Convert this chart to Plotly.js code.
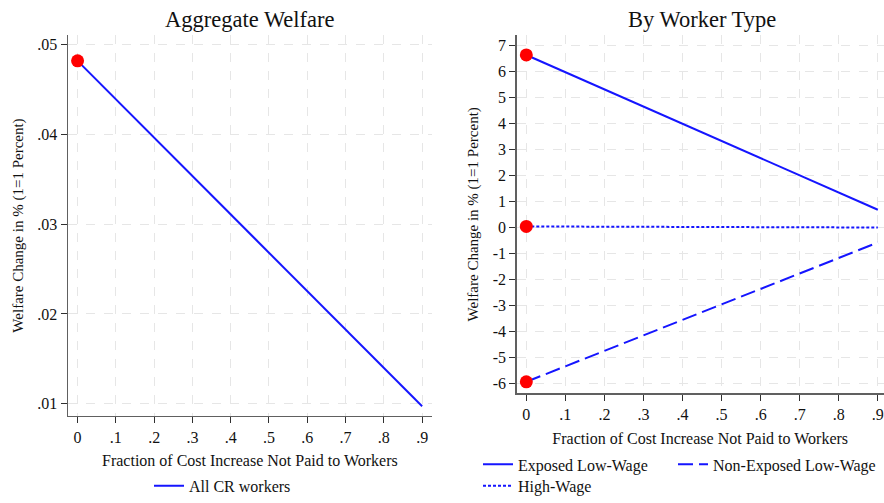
<!DOCTYPE html>
<html>
<head>
<meta charset="utf-8">
<script src="https://cdn.plot.ly/plotly-3.0.1.min.js"></script>
<style>html,body{margin:0;padding:0;background:#fff;}#chart{width:884px;height:503px;}</style>
</head>
<body>
<div id="chart"></div>
<script>
// Data
const xEnds = [0, 0.9];
const aggAll = [0.0482, 0.0097];
const exposedLow = [6.62, 0.68];
const nonExposedLow = [-5.92, -0.575];
const highWage = [0.04, 0.0];
const xTickVals = [0, 0.1, 0.2, 0.3, 0.4, 0.5, 0.6, 0.7, 0.8, 0.9];
const xTickText = ['0', '.1', '.2', '.3', '.4', '.5', '.6', '.7', '.8', '.9'];
const yLeftVals = [0.01, 0.02, 0.03, 0.04, 0.05];
const yLeftText = ['.01', '.02', '.03', '.04', '.05'];
const yRightVals = [-6, -5, -4, -3, -2, -1, 0, 1, 2, 3, 4, 5, 6, 7];
const yRightText = yRightVals.map(String);

const W = 884, H = 503;
const px = v => v / W;
const py = v => 1 - v / H;

const BLUE = '#1515ff';
const RED = '#ff0000';
const FONT = 'Liberation Serif, Times New Roman, serif';

const traces = [
  {x: xEnds, y: aggAll, xaxis: 'x', yaxis: 'y', mode: 'lines', name: 'All CR workers',
   line: {color: BLUE, width: 2}, legend: 'legend'},
  {x: [xEnds[0]], y: [aggAll[0]], xaxis: 'x', yaxis: 'y', mode: 'markers', showlegend: false,
   marker: {color: RED, size: 13}},
  {x: xEnds, y: exposedLow, xaxis: 'x2', yaxis: 'y2', mode: 'lines', name: 'Exposed Low-Wage',
   line: {color: BLUE, width: 2}, legend: 'legend2'},
  {x: xEnds, y: nonExposedLow, xaxis: 'x2', yaxis: 'y2', mode: 'lines', name: 'Non-Exposed Low-Wage',
   line: {color: BLUE, width: 2, dash: '15px,6px'}, legend: 'legend4'},
  {x: xEnds, y: highWage, xaxis: 'x2', yaxis: 'y2', mode: 'lines', name: 'High-Wage',
   line: {color: BLUE, width: 2, dash: '3px,2px'}, legend: 'legend3'},
  {x: [0, 0, 0], y: [exposedLow[0], highWage[0], nonExposedLow[0]], xaxis: 'x2', yaxis: 'y2',
   mode: 'markers', showlegend: false, marker: {color: RED, size: 13}}
];

const common = {
  showgrid: true, gridcolor: '#e6e6e6', gridwidth: 1, griddash: 'dash',
  showline: true, linecolor: '#606060', linewidth: 1.5, mirror: false,
  ticks: 'outside', ticklen: 6, tickcolor: '#303030', tickwidth: 1,
  zeroline: false, tickfont: {family: FONT, size: 16, color: '#111'},
  automargin: false, fixedrange: true
};

const xTitleFont = {family: FONT, size: 16, color: '#111'};
const yTitleFont = {family: FONT, size: 15, color: '#111'};
const legFont = {family: FONT, size: 16, color: '#111'};

const layout = {
  width: W, height: H,
  margin: {l: 0, r: 0, t: 0, b: 0},
  paper_bgcolor: '#fff', plot_bgcolor: '#fff',
  font: {family: FONT, color: '#111'},
  xaxis: Object.assign({}, common, {
    domain: [px(68), px(431.7)], range: [-0.025, 0.925], anchor: 'y',
    tickvals: xTickVals, ticktext: xTickText,
    title: {text: 'Fraction of Cost Increase Not Paid to Workers', font: xTitleFont, standoff: 10}
  }),
  yaxis: Object.assign({}, common, {
    domain: [py(421.7), py(35.7)], range: [0.00864, 0.05106], anchor: 'x',
    tickvals: yLeftVals, ticktext: yLeftText,
    title: {text: 'Welfare Change in % (1=1 Percent)', font: yTitleFont, standoff: 10}
  }),
  xaxis2: Object.assign({}, common, {
    domain: [px(516.7), px(883.7)], range: [-0.0246, 0.915], anchor: 'y2',
    tickvals: xTickVals, ticktext: xTickText,
    title: {text: 'Fraction of Cost Increase Not Paid to Workers', font: xTitleFont, standoff: 10}
  }),
  yaxis2: Object.assign({}, common, {
    domain: [py(399), py(35.7)], range: [-6.367, 7.378], anchor: 'x2',
    tickvals: yRightVals, ticktext: yRightText,
    title: {text: 'Welfare Change in % (1=1 Percent)', font: yTitleFont, standoff: 10}
  }),
  showlegend: true,
  legend: {orientation: 'h', x: px(149), xanchor: 'left', y: py(492.7), yanchor: 'middle',
           font: legFont, bgcolor: 'rgba(0,0,0,0)'},
  legend2: {orientation: 'h', x: px(478), xanchor: 'left', y: py(471), yanchor: 'middle',
            font: legFont, bgcolor: 'rgba(0,0,0,0)'},
  legend4: {orientation: 'h', x: px(673), xanchor: 'left', y: py(471), yanchor: 'middle',
            font: legFont, bgcolor: 'rgba(0,0,0,0)'},
  legend3: {orientation: 'h', x: px(478), xanchor: 'left', y: py(492.7), yanchor: 'middle',
            font: legFont, bgcolor: 'rgba(0,0,0,0)'},
  annotations: [
    {text: 'Aggregate Welfare', xref: 'paper', yref: 'paper', x: px(250), y: py(19.5),
     xanchor: 'center', yanchor: 'middle', showarrow: false, font: {family: FONT, size: 22.5, color: '#111'}},
    {text: 'By Worker Type', xref: 'paper', yref: 'paper', x: px(701.5), y: py(19.5),
     xanchor: 'center', yanchor: 'middle', showarrow: false, font: {family: FONT, size: 22.5, color: '#111'}}
  ]
};

Plotly.newPlot('chart', traces, layout, {displayModeBar: false, staticPlot: true});
</script>
</body>
</html>
